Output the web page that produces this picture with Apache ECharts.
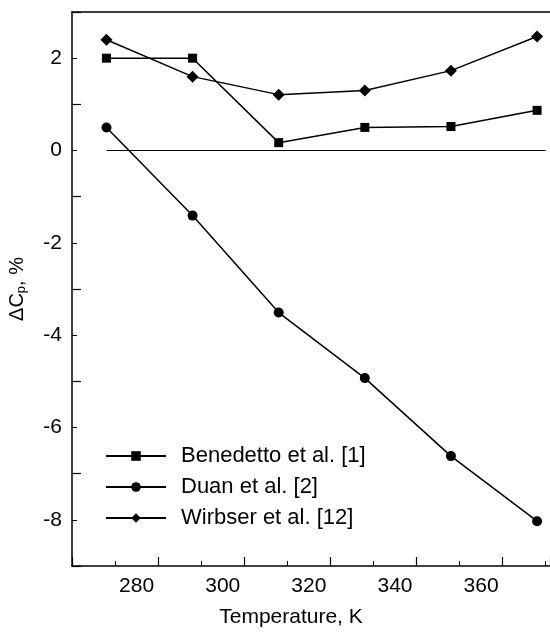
<!DOCTYPE html>
<html>
<head>
<meta charset="utf-8">
<script src="https://cdn.jsdelivr.net/npm/echarts@6/dist/echarts.min.js"></script>
<style>
html, body { margin: 0; padding: 0; background: #fff; }
#chart { width: 550px; height: 634px; }
</style>
</head>
<body>
<div id="chart"></div>
<script>
var temps = [273, 293, 313, 333, 353, 373];
var benedetto = [2.0, 2.0, 0.17, 0.50, 0.52, 0.87];
var duan = [0.5, -1.41, -3.51, -4.93, -6.62, -8.03];
var wirbser = [2.40, 1.60, 1.21, 1.30, 1.73, 2.47];
var zeroLine = [[273, 0], [375, 0]];
var names = ['Benedetto et al. [1]', 'Duan et al. [2]', 'Wirbser et al. [12]'];
var xTicks = [280, 300, 320, 340, 360];
var yTicks = [-8, -6, -4, -2, 0, 2];

function pairs(vals) {
    return temps.map(function (t, i) { return [t, vals[i]]; });
}

var font = 'Liberation Sans, Arial, sans-serif';
var myChart = echarts.init(document.getElementById('chart'));

function lineSeries(name, vals, symbol, size) {
    return {
        name: name,
        type: 'line',
        data: pairs(vals),
        symbol: symbol,
        symbolSize: size,
        showAllSymbol: true,
        itemStyle: { color: '#000' },
        lineStyle: { color: '#000', width: 1.5 },
        z: 3
    };
}

var option = {
    animation: false,
    backgroundColor: '#fff',
    grid: { left: 72, top: 12, right: 0, bottom: 68, containLabel: false, outerBoundsMode: 'none' },
    xAxis: [{
        type: 'value',
        min: 265,
        max: 376,
        interval: 20,
        position: 'bottom',
        axisLine: { onZero: false, lineStyle: { color: '#000', width: 1.5 } },
        axisTick: { inside: true, length: 9, lineStyle: { color: '#000', width: 1.2 } },
        minorTick: { show: true, splitNumber: 2, length: 5, lineStyle: { color: '#000', width: 1 } },
        axisLabel: {
            color: '#000', fontSize: 21, fontFamily: font, margin: 10,
            customValues: xTicks
        },
        splitLine: { show: false },
        name: 'Temperature, K',
        nameLocation: 'middle',
        nameGap: 41,
        nameTextStyle: { color: '#000', fontSize: 21, fontFamily: font, padding: [0, 40, 0, 0] }
    }, {
        type: 'value',
        min: 265,
        max: 376,
        position: 'top',
        axisLine: { show: true, onZero: false, lineStyle: { color: '#000', width: 1.5 } },
        axisTick: { show: false },
        axisLabel: { show: false },
        splitLine: { show: false }
    }],
    yAxis: {
        type: 'value',
        min: -9,
        max: 3,
        interval: 2,
        axisLine: { show: true, onZero: false, lineStyle: { color: '#000', width: 1.5 } },
        axisTick: { inside: true, length: 9, lineStyle: { color: '#000', width: 1.2 } },
        minorTick: { show: true, splitNumber: 2, length: 5, lineStyle: { color: '#000', width: 1 } },
        axisLabel: {
            color: '#000', fontSize: 21, fontFamily: font, margin: 10,
            customValues: yTicks
        },
        splitLine: { show: false },
        name: '{a|\u0394C}{b|p}{a|, %}',
        nameLocation: 'middle',
        nameRotate: 90,
        nameGap: 44,
        nameTextStyle: {
            color: '#000', fontFamily: font,
            rich: {
                a: { fontSize: 20, fontFamily: font, color: '#000' },
                b: { fontSize: 13, fontFamily: font, color: '#000', padding: [9, 0, 0, 0] }
            }
        }
    },
    legend: {
        left: 100,
        top: 440,
        orient: 'vertical',
        itemWidth: 60,
        itemHeight: 12,
        itemGap: 9,
        data: names,
        textStyle: { color: '#000', fontSize: 22, lineHeight: 22, fontFamily: font, padding: [0, 0, 0, 10] }
    },
    series: [
        lineSeries(names[0], benedetto, 'rect', 9),
        lineSeries(names[1], duan, 'circle', 10),
        lineSeries(names[2], wirbser, 'diamond', 12),
        {
            type: 'line',
            data: zeroLine,
            symbol: 'none',
            lineStyle: { color: '#000', width: 1.2 },
            z: 2,
            silent: true
        }
    ]
};

myChart.setOption(option);
</script>
</body>
</html>
